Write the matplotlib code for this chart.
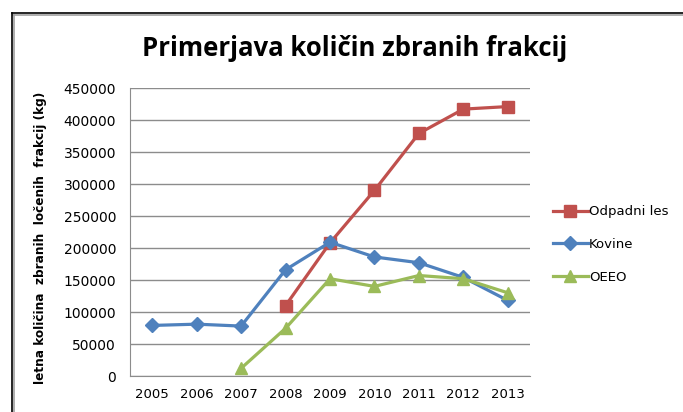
import matplotlib
matplotlib.use("Agg")
import matplotlib.pyplot as plt
from matplotlib.lines import Line2D

years = [2005, 2006, 2007, 2008, 2009, 2010, 2011, 2012, 2013]
odpadni_years = [2008, 2009, 2010, 2011, 2012, 2013]
odpadni_les = [110000, 208000, 290000, 379000, 417000, 421000]
kovine_years = [2005, 2006, 2007, 2008, 2009, 2010, 2011, 2012, 2013]
kovine = [79000, 81000, 78000, 166000, 209000, 186000, 177000, 154000, 118000]
oeeo_years = [2007, 2008, 2009, 2010, 2011, 2012, 2013]
oeeo = [12000, 74500, 152000, 140000, 157000, 152000, 130000]
yticks = [0, 50000, 100000, 150000, 200000, 250000, 300000, 350000, 400000, 450000]

W, H = 683, 412
fig = plt.figure(figsize=(W / 100, H / 100), dpi=100)
ax = fig.add_axes([130 / W, 1 - 376 / H, 400 / W, 288 / H])

red, blue, green = "#C0504D", "#4F81BD", "#9BBB59"
ax.plot(odpadni_years, odpadni_les, color=red, lw=2.3, marker="s", ms=8.5, label="Odpadni les", zorder=3)
ax.plot(kovine_years, kovine, color=blue, lw=2.3, marker="D", ms=7, label="Kovine", zorder=4)
ax.plot(oeeo_years, oeeo, color=green, lw=2.3, marker="^", ms=9, label="OEEO", zorder=5, clip_on=False)

ax.set_xlim(2004.5, 2013.5)
ax.set_ylim(0, 450000)
ax.set_xticks(years)
ax.set_xticklabels([str(y) for y in years])
ax.set_yticks(yticks)
ax.set_yticklabels([str(v) for v in yticks])
ax.grid(axis="y", color="#8C8C8C", lw=1)
ax.set_axisbelow(True)
for s in ["top", "right"]:
    ax.spines[s].set_visible(False)
for s in ["left", "bottom"]:
    ax.spines[s].set_color("#8C8C8C")
ax.tick_params(axis="y", length=0, pad=10, labelsize=10)
ax.tick_params(axis="x", length=0, pad=9, labelsize=9.5)

ax.set_ylabel("letna količina  zbranih  ločenih  frakcij (kg)", fontsize=8.7, fontweight="bold",
              family=["DejaVu Sans Condensed", "DejaVu Sans"])
ax.yaxis.set_label_coords(-(130 - 47) / 400, (376 - 238) / 288)

fig.text(355 / W, 1 - 48 / H, "Primerjava količin zbranih frakcij", ha="center", va="center",
         fontsize=18.5, fontweight="bold", family=["Open Sans", "DejaVu Sans"])

fig.legend(loc="upper left", bbox_to_anchor=(548 / W, 1 - 200 / H), frameon=False,
           fontsize=9.5, handlelength=2.6, handletextpad=0.1, labelspacing=1.5, borderaxespad=0)

# outer frame (top and left edges)
fig.add_artist(Line2D([11.5 / W, 1], [1 - 12.5 / H, 1 - 12.5 / H], color="black", lw=1.2, transform=fig.transFigure))
fig.add_artist(Line2D([13 / W, 1], [1 - 14.5 / H, 1 - 14.5 / H], color="#A0A0A0", lw=1.2, transform=fig.transFigure))
fig.add_artist(Line2D([11.5 / W, 11.5 / W], [0, 1 - 12.5 / H], color="black", lw=1.2, transform=fig.transFigure))
fig.add_artist(Line2D([13.5 / W, 13.5 / W], [0, 1 - 14.5 / H], color="#A0A0A0", lw=1.2, transform=fig.transFigure))

fig.savefig("out.png", dpi=100)
